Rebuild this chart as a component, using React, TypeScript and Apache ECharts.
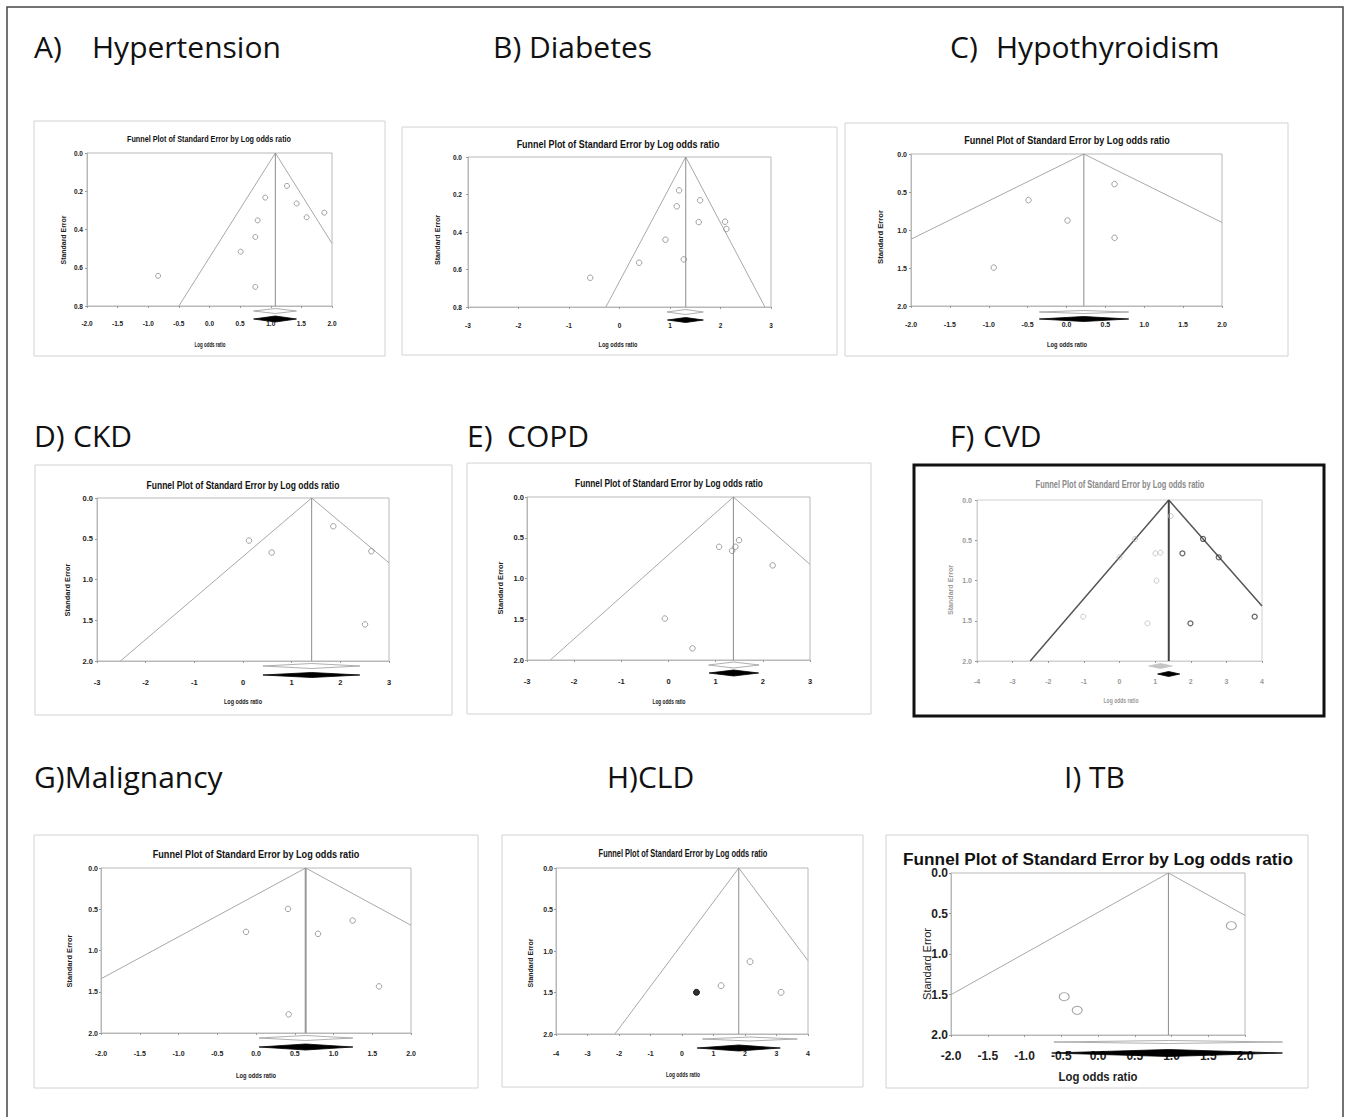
import React, { useEffect, useRef } from 'react';
import * as echarts from 'echarts';

// ---------- DATA ----------
// Each study: [log odds ratio, standard error]
// Funnel: [left end, apex, right end] ; Summary diamonds: [lower, estimate, upper]

// A) Hypertension
const hypertensionStudies = [[-0.84, 0.642], [0.91, 0.233], [0.786, 0.352], [0.748, 0.439], [0.509, 0.516], [0.748, 0.7], [1.265, 0.172], [1.423, 0.264], [1.586, 0.336], [1.875, 0.312]];
const hypertensionFunnel = [[-0.5, 0.8], [1.075, 0], [2.0, 0.473]];
const hypertensionObserved = [0.72, 1.075, 1.42];
const hypertensionAdjusted = [0.72, 1.075, 1.42];

// B) Diabetes
const diabetesStudies = [[-0.58, 0.644], [0.389, 0.564], [0.91, 0.441], [1.134, 0.263], [1.18, 0.178], [1.273, 0.546], [1.596, 0.231], [1.569, 0.347], [2.09, 0.345], [2.117, 0.384]];
const diabetesFunnel = [[-0.27, 0.8], [1.312, 0], [2.88, 0.8]];
const diabetesObserved = [0.94, 1.31, 1.66];
const diabetesAdjusted = [0.95, 1.31, 1.66];

// C) Hypothyroidism
const hypothyroidismStudies = [[-0.936, 1.495], [-0.489, 0.607], [0.013, 0.875], [0.618, 0.396], [0.618, 1.103]];
const hypothyroidismFunnel = [[-2, 1.121], [0.223, 0], [2, 0.901]];
const hypothyroidismObserved = [-0.35, 0.22, 0.8];
const hypothyroidismAdjusted = [-0.35, 0.22, 0.8];

// D) CKD
const ckdStudies = [[0.123, 0.522], [0.589, 0.669], [1.856, 0.347], [2.637, 0.653], [2.507, 1.551]];
const ckdFunnel = [[-2.52, 2], [1.411, 0], [3, 0.796]];
const ckdObserved = [0.41, 1.41, 2.4];
const ckdAdjusted = [0.41, 1.41, 2.4];

// E) COPD
const copdStudies = [[-0.078, 1.491], [0.508, 1.857], [1.073, 0.611], [1.348, 0.66], [1.419, 0.611], [1.496, 0.53], [2.209, 0.839]];
const copdFunnel = [[-2.506, 2], [1.376, 0], [3, 0.827]];
const copdObserved = [0.85, 1.38, 1.92];
const copdAdjusted = [0.86, 1.38, 1.91];

// F) CVD
const cvdStudies = [[-1.019, 1.449], [0.0, 0.712], [0.439, 0.484], [1.009, 0.663], [1.15, 0.654], [1.037, 1.002], [0.785, 1.532], [1.439, 0.199]];
const cvdImputed = [[1.766, 0.663], [2.346, 0.484], [2.785, 0.712], [1.991, 1.532], [3.794, 1.449]];
const cvdFunnel = [[-2.505, 2], [1.383, 0], [4, 1.317]];
const cvdObserved = [0.82, 1.15, 1.48];
const cvdAdjusted = [1.07, 1.38, 1.69];

// G) Malignancy
const malignancyStudies = [[-0.129, 0.774], [0.413, 0.496], [0.421, 1.774], [0.8, 0.798], [1.247, 0.637], [1.587, 1.435]];
const malignancyFunnel = [[-2, 1.343], [0.641, 0], [2, 0.694]];
const malignancyObserved = [0.04, 0.64, 1.25];
const malignancyAdjusted = [0.04, 0.64, 1.25];

// H) CLD
const cldStudies = [[1.242, 1.418], [2.161, 1.129], [3.144, 1.498]];
const cldImputed = [[0.46, 1.498]];
const cldFunnel = [[-2.13, 2], [1.802, 0], [4, 1.117]];
const cldObserved = [0.65, 2.15, 3.66];
const cldAdjusted = [0.48, 1.8, 3.12];

// I) TB
const tbStudies = [[-0.46, 1.527], [-0.283, 1.695], [1.814, 0.65]];
const tbFunnel = [[-2, 1.502], [0.958, 0], [2, 0.523]];
const tbObserved = [-0.6, 0.96, 2.51];
const tbAdjusted = [-0.63, 0.96, 2.51];

const plotTitle = 'Funnel Plot of Standard Error by Log odds ratio';
const xAxisTitle = 'Log odds ratio';
const yAxisTitle = 'Standard Error';

// ---------- LAYOUT ----------
const SANS = '"Liberation Sans", Arial, sans-serif';
const HEAD = '"Open Sans", "Liberation Sans", sans-serif';

type Panel = any;

const panels: Panel[] = [
  {
    labels: [{ text: 'A)', x: 34 }, { text: 'Hypertension', x: 92 }], labelY: 46,
    box: [34, 121, 351, 235], grid: [87, 153, 245, 153],
    xr: [-2, 2, 0.5, 1], yr: [0.8, 0.2],
    studies: hypertensionStudies, funnel: hypertensionFunnel, observed: hypertensionObserved, adjusted: hypertensionAdjusted,
    title: [209, 139, 164, 9.5], xName: [210, 344, 31, 7.5], yName: [63, 240, 49, 7],
    tick: 6.5, xMargin: 14, yMargin: 4, sym: 5,
    dia: [5, 2.5, 13, 3],
  },
  {
    labels: [{ text: 'B)', x: 493 }, { text: 'Diabetes', x: 529 }], labelY: 46,
    box: [402, 127, 435, 228], grid: [468, 157, 303, 150],
    xr: [-3, 3, 1, 0], yr: [0.8, 0.2],
    studies: diabetesStudies, funnel: diabetesFunnel, observed: diabetesObserved, adjusted: diabetesAdjusted,
    title: [618, 144, 203, 11], xName: [618, 344, 39, 8], yName: [438, 240, 50, 7],
    tick: 6.5, xMargin: 15, yMargin: 6, sym: 5.5,
    dia: [5, 2.5, 13, 2.5],
  },
  {
    labels: [{ text: 'C)', x: 950 }, { text: 'Hypothyroidism', x: 996 }], labelY: 46,
    box: [845, 123, 443, 233], grid: [911, 154, 311, 152],
    xr: [-2, 2, 0.5, 1], yr: [2, 0.5],
    studies: hypothyroidismStudies, funnel: hypothyroidismFunnel, observed: hypothyroidismObserved, adjusted: hypothyroidismAdjusted,
    title: [1067, 140, 206, 11], xName: [1067, 344, 40, 8], yName: [881, 237, 54, 7.5],
    tick: 7, xMargin: 15, yMargin: 4, sym: 5.5,
    dia: [6, 1.5, 13, 2.5],
  },
  {
    labels: [{ text: 'D)', x: 34 }, { text: 'CKD', x: 73 }], labelY: 435,
    box: [35, 465, 417, 250], grid: [97, 498, 292, 163],
    xr: [-3, 3, 1, 0], yr: [2, 0.5],
    studies: ckdStudies, funnel: ckdFunnel, observed: ckdObserved, adjusted: ckdAdjusted,
    title: [243, 485, 193, 11], xName: [243, 701, 38, 8], yName: [68, 590, 53, 7.5],
    tick: 7.5, xMargin: 17, yMargin: 4, sym: 5.5,
    dia: [5, 2.5, 14, 2.5],
  },
  {
    labels: [{ text: 'E)', x: 467 }, { text: 'COPD', x: 507 }], labelY: 435,
    box: [467, 463, 404, 251], grid: [527, 497, 283, 163],
    xr: [-3, 3, 1, 0], yr: [2, 0.5],
    studies: copdStudies, funnel: copdFunnel, observed: copdObserved, adjusted: copdAdjusted,
    title: [669, 483, 188, 11], xName: [669, 701, 33, 8], yName: [501, 588, 53, 7.5],
    tick: 7.5, xMargin: 17, yMargin: 3, sym: 5.5,
    dia: [5, 3, 13, 3],
  },
  {
    labels: [{ text: 'F)', x: 950 }, { text: 'CVD', x: 983 }], labelY: 435,
    box: [914, 465, 410, 251], boxColor: '#111', boxWidth: 3,
    grid: [977, 500, 285, 161],
    xr: [-4, 4, 1, 0], yr: [2, 0.5],
    studies: cvdStudies, imputed: cvdImputed, imputedStyle: 'dark',
    funnel: cvdFunnel, observed: cvdObserved, adjusted: cvdAdjusted,
    title: [1120, 485, 169, 10.5], xName: [1121, 700, 35, 7.5], yName: [951, 590, 50, 7],
    tick: 7, xMargin: 17, yMargin: 5, sym: 5,
    dia: [5, 2.5, 13, 2.5],
    faded: true, funnelColor: '#555', funnelWidth: 1.5, vColor: '#444', vWidth: 2,
    circleColor: '#bbb', observedFill: '#c4c4c4', observedStroke: '#c4c4c4',
  },
  {
    labels: [{ text: 'G)Malignancy', x: 34 }], labelY: 776,
    box: [34, 835, 444, 253], grid: [101, 868, 310, 165],
    xr: [-2, 2, 0.5, 1], yr: [2, 0.5],
    studies: malignancyStudies, funnel: malignancyFunnel, observed: malignancyObserved, adjusted: malignancyAdjusted,
    title: [256, 854, 207, 11], xName: [256, 1075, 40, 8], yName: [70, 961, 53, 7.5],
    tick: 7, xMargin: 17, yMargin: 3, sym: 5.5,
    dia: [5, 2.5, 14, 3], vWidth: 2, vColor: '#999',
  },
  {
    labels: [{ text: 'H)CLD', x: 607 }], labelY: 776,
    box: [502, 835, 361, 252], grid: [556, 868, 252, 166],
    xr: [-4, 4, 1, 0], yr: [2, 0.5],
    studies: cldStudies, imputed: cldImputed, imputedStyle: 'filled',
    funnel: cldFunnel, observed: cldObserved, adjusted: cldAdjusted,
    title: [683, 854, 169, 10.5], xName: [683, 1074, 34, 7.5], yName: [530, 963, 49, 7],
    tick: 7, xMargin: 16, yMargin: 3, sym: 6,
    dia: [5, 2, 14, 3],
  },
  {
    labels: [{ text: 'I) TB', x: 1064 }], labelY: 776,
    box: [886, 835, 422, 253], grid: [951, 873, 294, 162],
    xr: [-2, 2, 0.5, 1], yr: [2, 0.5],
    studies: tbStudies, funnel: tbFunnel, observed: tbObserved, adjusted: tbAdjusted,
    title: [1098, 860, 390, 17], xName: [1098, 1076, 79, 12], yName: [927, 964, 72, 11, 'normal'],
    tick: 12, xMargin: 15, yMargin: 3, sym: [10, 8],
    dia: [7, 1.5, 18, 3.5],
  },
];

// ---------- helpers ----------
let measureCtx: CanvasRenderingContext2D | null = null;
function textWidth(text: string, size: number, weight: string) {
  if (!measureCtx) measureCtx = document.createElement('canvas').getContext('2d');
  if (!measureCtx) return text.length * size * 0.5;
  measureCtx.font = `${weight} ${size}px "Liberation Sans", Arial, sans-serif`;
  return measureCtx.measureText(text).width;
}

function fittedText(text: string, cx: number, cy: number, w: number, size: number, weight: string, color: string, rotate = false) {
  const s = w / textWidth(text, size, weight);
  return {
    type: 'text', x: cx, y: cy, scaleX: s, rotation: rotate ? Math.PI / 2 : 0, silent: true, z: 5,
    style: {
      text, fontSize: size, fontWeight: weight, fontFamily: SANS, fill: color,
      textAlign: 'center', textVerticalAlign: 'middle', align: 'center', verticalAlign: 'middle',
    },
  };
}

function diamondSeries(i: number, p: Panel, values: number[], offset: number, half: number, fill: string, stroke: string) {
  const yMax = p.yr[0];
  return {
    type: 'custom', xAxisIndex: i, yAxisIndex: i, clip: false, silent: true, z: 10,
    encode: { x: [0, 2], y: 1 },
    data: [values],
    renderItem: (_params: any, api: any) => {
      const lo = api.value(0), est = api.value(1), hi = api.value(2);
      const c = api.coord([est, yMax]);
      const y = c[1] + offset;
      const xl = api.coord([lo, yMax])[0];
      const xh = api.coord([hi, yMax])[0];
      return {
        type: 'polygon',
        shape: { points: [[xl, y], [c[0], y - half], [xh, y], [c[0], y + half]] },
        style: { fill, stroke, lineWidth: 0.8 },
      };
    },
  };
}

function buildOption() {
  const grids: any[] = [];
  const xAxes: any[] = [];
  const yAxes: any[] = [];
  const series: any[] = [];
  const graphics: any[] = [];

  // outer figure frame (bottom edge lies outside the picture)
  graphics.push({ type: 'rect', silent: true, z: 0, shape: { x: 7, y: 7, width: 1336, height: 1125 }, style: { fill: 'none', stroke: '#444', lineWidth: 1.5 } });

  panels.forEach((p, i) => {
    const faded = !!p.faded;
    const textColor = faded ? '#9a9a9a' : '#222';
    const frame = faded ? '#d0d0d0' : '#b8b8b8';

    graphics.push({
      type: 'rect', silent: true, z: 0,
      shape: { x: p.box[0], y: p.box[1], width: p.box[2], height: p.box[3] },
      style: { fill: 'none', stroke: p.boxColor || '#d2d2d2', lineWidth: p.boxWidth || 1 },
    });
    p.labels.forEach((l: any) => {
      graphics.push({
        type: 'text', x: l.x, y: p.labelY, silent: true, z: 5,
        style: { text: l.text, fontSize: 30, fontFamily: HEAD, fill: '#111', textAlign: 'left', textVerticalAlign: 'middle', align: 'left', verticalAlign: 'middle' },
      });
    });
    graphics.push(fittedText(plotTitle, p.title[0], p.title[1], p.title[2], p.title[3], 'bold', faded ? '#8a8a8a' : '#111'));
    graphics.push(fittedText(xAxisTitle, p.xName[0], p.xName[1], p.xName[2], p.xName[3], 'bold', textColor));
    graphics.push(fittedText(yAxisTitle, p.yName[0], p.yName[1], p.yName[2], p.yName[3], p.yName[4] || 'bold', textColor, true));

    grids.push({
      left: p.grid[0], top: p.grid[1], width: p.grid[2], height: p.grid[3],
      show: true, borderColor: frame, borderWidth: 1, backgroundColor: 'transparent',
      containLabel: false, outerBoundsMode: 'none',
    });
    const labelStyle = { fontSize: p.tick, fontWeight: 'bold', fontFamily: SANS, color: textColor, showMinLabel: true, showMaxLabel: true, hideOverlap: false };
    xAxes.push({
      type: 'value', gridIndex: i, min: p.xr[0], max: p.xr[1], interval: p.xr[2],
      axisLine: { show: true, onZero: false, lineStyle: { color: frame, width: 1 } },
      axisTick: { show: true, length: 2, lineStyle: { color: '#999' } },
      splitLine: { show: false },
      axisLabel: { ...labelStyle, margin: p.xMargin, formatter: (v: number) => v.toFixed(p.xr[3]) },
    });
    yAxes.push({
      type: 'value', gridIndex: i, min: 0, max: p.yr[0], interval: p.yr[1], inverse: true,
      axisLine: { show: true, onZero: false, lineStyle: { color: frame, width: 1 } },
      axisTick: { show: true, length: 2, lineStyle: { color: '#999' } },
      splitLine: { show: false },
      axisLabel: { ...labelStyle, margin: p.yMargin, formatter: (v: number) => v.toFixed(1) },
    });

    const apex = p.funnel[1][0];
    series.push({
      type: 'line', xAxisIndex: i, yAxisIndex: i, data: p.funnel, symbol: 'none', silent: true, z: 3,
      lineStyle: { color: p.funnelColor || '#a8a8a8', width: p.funnelWidth || 1 },
    });
    series.push({
      type: 'line', xAxisIndex: i, yAxisIndex: i, data: [[apex, 0], [apex, p.yr[0]]], symbol: 'none', silent: true, z: 3,
      lineStyle: { color: p.vColor || '#8c8c8c', width: p.vWidth || 1 },
    });
    series.push({
      type: 'scatter', xAxisIndex: i, yAxisIndex: i, data: p.studies, symbol: 'circle', symbolSize: p.sym, silent: true, z: 4,
      itemStyle: { color: 'rgba(255,255,255,0)', borderColor: p.circleColor || '#8a8a8a', borderWidth: 1 },
    });
    if (p.imputed) {
      const filled = p.imputedStyle === 'filled';
      series.push({
        type: 'scatter', xAxisIndex: i, yAxisIndex: i, data: p.imputed, symbol: 'circle', symbolSize: p.sym, silent: true, z: 4,
        itemStyle: filled
          ? { color: '#000', borderColor: '#000', borderWidth: 1 }
          : { color: 'rgba(255,255,255,0)', borderColor: '#3a3a3a', borderWidth: 1.2 },
      });
    }
    series.push(diamondSeries(i, p, p.observed, p.dia[0], p.dia[1], p.observedFill || '#fff', p.observedStroke || '#9a9a9a'));
    series.push(diamondSeries(i, p, p.adjusted, p.dia[2], p.dia[3], '#000', '#000'));
  });

  return {
    animation: false,
    backgroundColor: '#fff',
    grid: grids,
    xAxis: xAxes,
    yAxis: yAxes,
    series,
    graphic: { elements: graphics },
  };
}

export default function App() {
  const ref = useRef<HTMLDivElement>(null);
  useEffect(() => {
    if (!ref.current) return;
    const chart = echarts.init(ref.current, undefined, { renderer: 'svg' });
    chart.setOption(buildOption() as any);
    return () => chart.dispose();
  }, []);
  return <div ref={ref} style={{ position: 'absolute', left: 0, top: 0, width: 1346, height: 1117 }} />;
}
